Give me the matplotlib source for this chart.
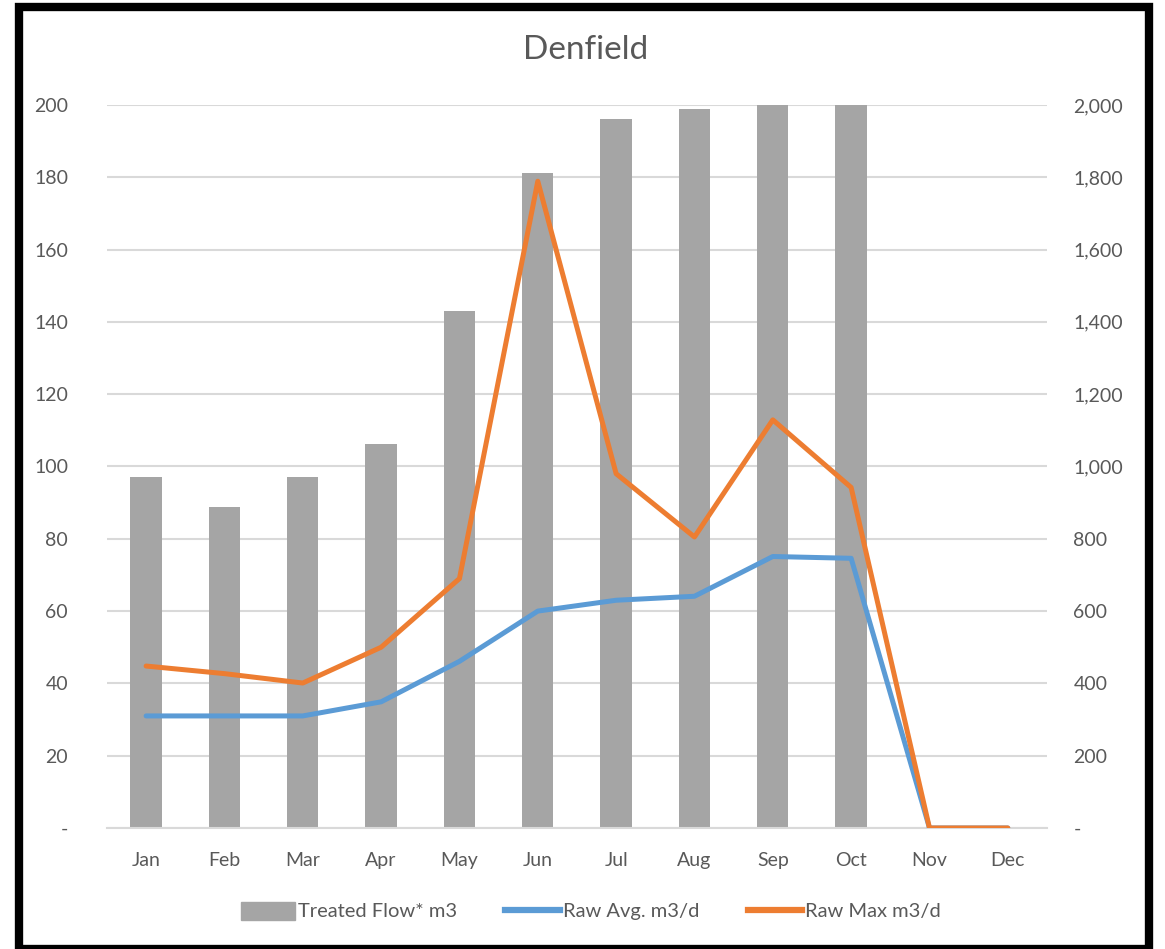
import matplotlib.pyplot as plt
from matplotlib.ticker import FuncFormatter, MultipleLocator
from matplotlib.patches import Rectangle

plt.rcParams['font.family'] = ['Lato', 'DejaVu Sans']

months = ['Jan', 'Feb', 'Mar', 'Apr', 'May', 'Jun', 'Jul', 'Aug', 'Sep', 'Oct', 'Nov', 'Dec']
treated_flow = [97.2, 88.7, 97.1, 106.1, 143, 181.2, 196, 198.8, 200, 200, 0, 0]
raw_avg = [310, 310, 310, 349, 461, 600, 630, 641, 751, 746, 0, 0]
raw_max = [448, 427, 401, 500, 690, 1789, 980, 805, 1129, 942, 0, 0]

text_col = '#595959'
grid_col = '#d9d9d9'

fig = plt.figure(figsize=(11.65, 9.49), dpi=100)
ax = fig.add_axes([0.0918, 0.1275, 0.8069, 0.7619])
ax2 = ax.twinx()

x = list(range(len(months)))
ax.bar(x, treated_flow, width=0.4, color='#a5a5a5', zorder=2)
ax2.plot(x, raw_avg, color='#5b9bd5', lw=3.6, solid_joinstyle='round', solid_capstyle='round', zorder=3)
ax2.plot(x, raw_max, color='#ed7d31', lw=3.6, solid_joinstyle='round', solid_capstyle='round', zorder=4)

ax.set_xlim(-0.5, 11.5)
ax.set_ylim(0, 200)
ax2.set_ylim(0, 2000)
ax.yaxis.set_major_locator(MultipleLocator(20))
ax2.yaxis.set_major_locator(MultipleLocator(200))
ax.yaxis.set_major_formatter(FuncFormatter(lambda v, p: '-' if v == 0 else f'{v:.0f}'))
ax2.yaxis.set_major_formatter(FuncFormatter(lambda v, p: '-' if v == 0 else f'{v:,.0f}'))

ax.grid(axis='y', color=grid_col, lw=1.5, zorder=0)
ax.set_axisbelow(True)
for a in (ax, ax2):
    for s in a.spines.values():
        s.set_visible(False)
    a.tick_params(length=0, labelsize=14, labelcolor=text_col)
ax.spines['bottom'].set_visible(True)
ax.spines['bottom'].set_color(grid_col)
ax.spines['bottom'].set_linewidth(1.5)
ax.set_xticks(x)
ax.set_xticklabels(months)
ax.tick_params(axis='x', pad=17)
ax.tick_params(axis='y', pad=28)
ax2.tick_params(axis='y', pad=19)

fig.text(0.503, 0.947, 'Denfield', ha='center', va='center', fontsize=24, color=text_col)

handles = [Rectangle((0, 0), 1, 1, color='#a5a5a5'),
           plt.Line2D([], [], color='#5b9bd5', lw=4.5),
           plt.Line2D([], [], color='#ed7d31', lw=4.5)]
labels = ['Treated Flow* m3', 'Raw Avg. m3/d', 'Raw Max m3/d']
fig.legend(handles, labels, loc='center', bbox_to_anchor=(0.507, 0.04), ncol=3, frameon=False,
           fontsize=14.5, labelcolor=text_col, handlelength=2.7, handleheight=1.0,
           handletextpad=0.15, columnspacing=2.4)

# outer frame
fig.add_artist(Rectangle((0.016, 0.0), 0.970, 0.993, transform=fig.transFigure,
                         fill=False, edgecolor='black', lw=6))

fig.savefig('out.png', dpi=100)
